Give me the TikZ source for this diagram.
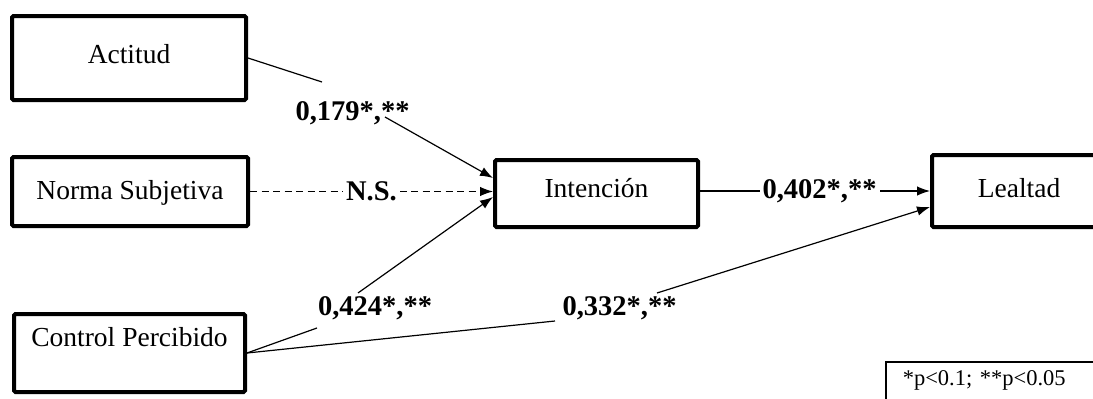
\documentclass[tikz,border=0pt]{standalone}
\usepackage{fontspec}
\setmainfont{Liberation Serif}
\usetikzlibrary{arrows.meta,calc}
\begin{document}
\begin{tikzpicture}[x=1pt,y=-1pt,
  box/.style={draw, line width=4pt, rounded corners=1.5pt, inner sep=0pt,
    font=\fontsize{27.5}{33}\selectfont},
  conn/.style={line width=1.2pt},
  arr/.style={conn, -{Latex[length=13pt,width=9.5pt]}},
  coef/.style={font=\bfseries\fontsize{28.5}{34}\selectfont, inner sep=0pt},
  legendbox/.style={draw, line width=1.5pt, inner xsep=17pt, inner ysep=0pt,
    text width=200pt, align=left, text height=24pt, text depth=50pt,
    font=\fontsize{22.5}{26}\selectfont}
]
\clip (0,0) rectangle (1093,399);

% boxes
\node[box, minimum width=234pt, text height=47pt, text depth=37pt] (act) at (129,58) {Actitud};
\node[box, minimum width=236pt, text height=42pt, text depth=27pt] (norm) at (130,191.5) {Norma Subjetiva};
\node[box, minimum width=231pt, text height=32pt, text depth=46pt] (ctl) at (129.5,353) {Control Percibido};
\node[box, minimum width=203pt, text height=37pt, text depth=30pt] (int) at (596.5,193.5) {Intención};
\node[box, minimum width=174pt, text height=42pt, text depth=30pt] (lea) at (1019,191) {Lealtad};
\node[legendbox, anchor=north west] (leg) at (885,361) {*p<0.1; **p<0.05};

% Actitud -> Intencion
\coordinate (a1) at (322,82);
\coordinate (a2) at (385,117);
\draw[conn] (act.east) -- (a1);
\draw[arr] (a2) -- ([yshift=15.5pt]int.west);
\node[coef, anchor=base] (c179) at (352.5,120) {0,179*,**};

% Norma Subjetiva -> Intencion
\draw[arr, dash pattern=on 7pt off 4.5pt] (norm.east) --
  node[coef, fill=white, inner xsep=3pt, inner ysep=1pt] (ns) {N.S.} (norm.east -| int.west);

% Control -> Intencion
\coordinate (b1) at (317,328);
\coordinate (b2) at (358,293);
\draw[conn] (ctl.east) -- (b1);
\draw[arr] (b2) -- ([yshift=-3.5pt]int.west);
\node[coef, anchor=base] (c424) at (375,315) {0,424*,**};

% Control -> Lealtad
\coordinate (d1) at (555,321);
\coordinate (d2) at (657,293);
\draw[conn] (ctl.east) -- (d1);
\draw[arr] (d2) -- ([yshift=-16pt]lea.west);
\node[coef, anchor=base] (c332) at (619.5,315) {0,332*,**};

% Intencion -> Lealtad
\draw[arr] (int.east |- lea.west) --
  node[pos=0.52, coef, fill=white, inner xsep=3pt, inner ysep=1pt] (c402) {0,402*,**} (lea.west);
\end{tikzpicture}
\end{document}
